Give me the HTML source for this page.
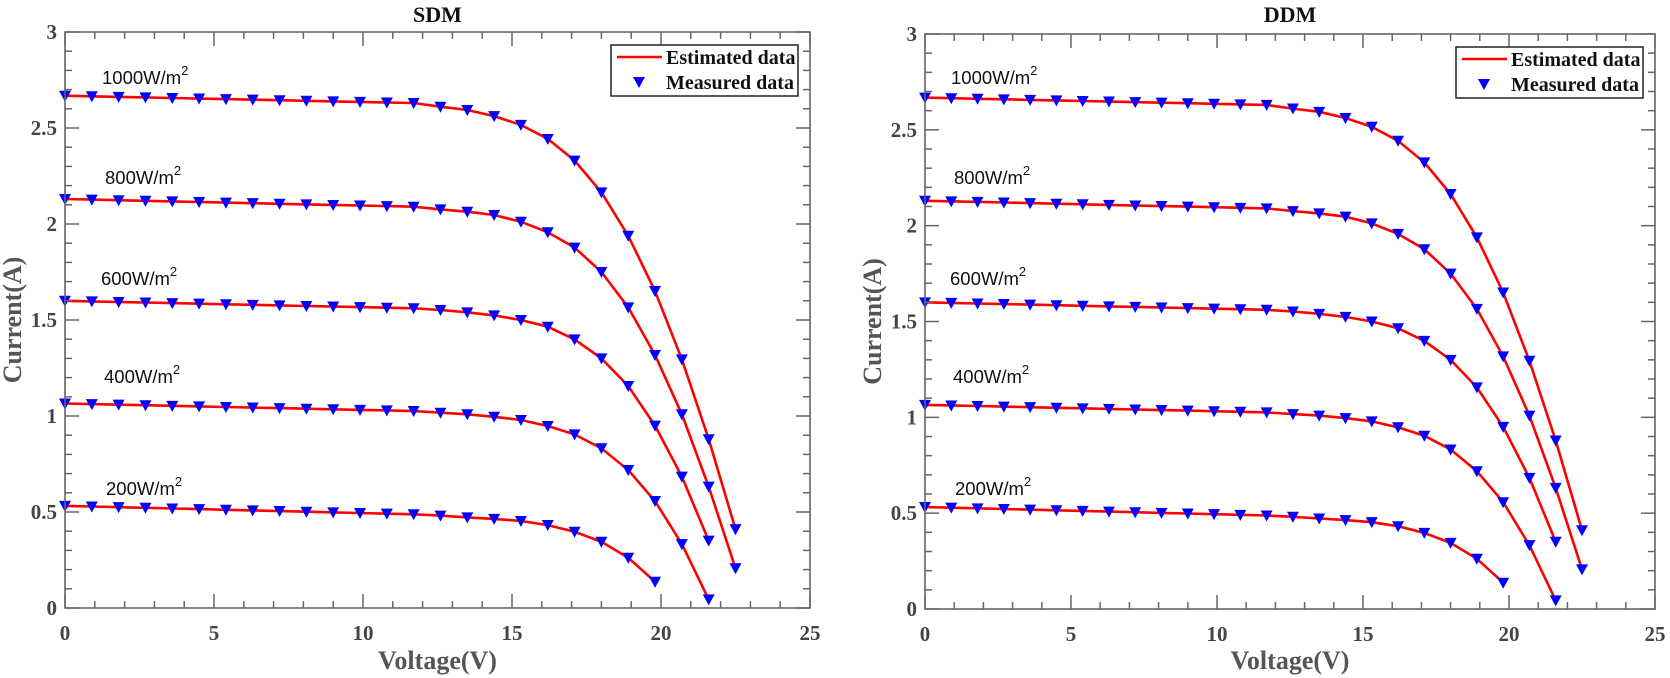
<!DOCTYPE html>
<html><head><meta charset="utf-8"><style>
html,body{margin:0;padding:0;background:#fff;}
svg{display:block;}
.tk{font-family:"Liberation Serif",serif;font-weight:bold;font-size:21px;fill:#444;}
.ax{font-family:"Liberation Serif",serif;font-weight:bold;font-size:26px;fill:#555;}
.tt{font-family:"Liberation Serif",serif;font-weight:bold;font-size:22px;fill:#111;}
.lg{font-family:"Liberation Serif",serif;font-weight:bold;font-size:20px;fill:#111;}
.lb{font-family:"Liberation Sans",sans-serif;font-size:18.5px;fill:#111;}
.lb2{font-family:"Liberation Sans",sans-serif;font-size:13px;fill:#111;}
</style></head><body>
<svg id="s" width="1670" height="678" viewBox="0 0 1670 678" xmlns="http://www.w3.org/2000/svg"></svg>
<script>
var curves=[
 {isc:2.668,pts:[2.630,2.611,2.594,2.562,2.516,2.443,2.330,2.165,1.939,1.651,1.295,0.879,0.411]},
 {isc:2.13,pts:[2.090,2.076,2.064,2.047,2.012,1.957,1.877,1.750,1.566,1.318,1.009,0.632,0.207]},
 {isc:1.60,pts:[1.561,1.552,1.540,1.524,1.500,1.465,1.399,1.300,1.156,0.950,0.684,0.351]},
 {isc:1.065,pts:[1.026,1.017,1.009,0.996,0.979,0.948,0.904,0.832,0.719,0.557,0.333,0.045]},
 {isc:0.532,pts:[0.488,0.481,0.472,0.464,0.453,0.432,0.397,0.345,0.262,0.137]}
];
curves.forEach(function(c){
 var d=[];var i11=c.pts[0];
 for(var k=0;k<13;k++){var v=k*0.9;d.push([v,c.isc+(i11-c.isc)*v/11.7]);}
 c.pts.forEach(function(p,j){d.push([11.7+0.9*j,p]);});
 c.data=d;
});
var labels=[["1000",77,37],["800",177,40],["600",278,36],["400",376,39],["200",488,41]];
var s="";
function plot(x0,x1,y0,y1,title,lx,labOff){
 var sx=(x1-x0)/25, sy=(y0-y1)/3;
 function X(v){return x0+v*sx;} function Y(i){return y0-i*sy;}
 curves.forEach(function(c){
  s+='<polyline fill="none" stroke="#ff0000" stroke-width="2.6" points="'+c.data.map(function(p){return X(p[0]).toFixed(1)+','+Y(p[1]).toFixed(1);}).join(' ')+'"/>';
 });
 curves.forEach(function(c){
  c.data.forEach(function(p){var x=X(p[0]),y=Y(p[1]);
   s+='<polygon fill="#0000ff" points="'+(x-6)+','+(y-5)+' '+(x+6)+','+(y-5)+' '+x+','+(y+6)+'"/>';});
 });
 s+='<rect x="'+x0+'" y="'+y1+'" width="'+(x1-x0)+'" height="'+(y0-y1)+'" fill="none" stroke="#666" stroke-width="1.6"/>';
 for(var v=0;v<=25;v++){var x=X(v),L=(v%5==0)?14:7;
  s+='<line x1="'+x+'" y1="'+y0+'" x2="'+x+'" y2="'+(y0-L)+'" stroke="#666" stroke-width="1.5"/>';
  s+='<line x1="'+x+'" y1="'+y1+'" x2="'+x+'" y2="'+(y1+L)+'" stroke="#666" stroke-width="1.5"/>';
  if(v%5==0) s+='<text class="tk" x="'+x+'" y="'+(y0+32)+'" text-anchor="middle">'+v+'</text>';
 }
 for(var k=0;k<=30;k++){var y=Y(k/10),L=(k%5==0)?14:7;
  s+='<line x1="'+x0+'" y1="'+y+'" x2="'+(x0+L)+'" y2="'+y+'" stroke="#666" stroke-width="1.5"/>';
  s+='<line x1="'+x1+'" y1="'+y+'" x2="'+(x1-L)+'" y2="'+y+'" stroke="#666" stroke-width="1.5"/>';
  if(k%5==0) s+='<text class="tk" x="'+(x0-8)+'" y="'+(y+7)+'" text-anchor="end">'+(k/10)+'</text>';
 }
 var cx=(x0+x1)/2;
 s+='<text class="tt" x="'+cx+'" y="22" text-anchor="middle">'+title+'</text>';
 s+='<text class="ax" x="'+cx+'" y="669" text-anchor="middle">Voltage(V)</text>';
 s+='<text class="ax" transform="translate('+(x0-44)+','+((y0+y1)/2)+') rotate(-90)" text-anchor="middle">Current(A)</text>';
 labels.forEach(function(l){var tx=x0+l[2]+labOff;
  s+='<text class="lb" x="'+tx+'" y="'+(l[1]+7)+'">'+l[0]+'W/m<tspan class="lb2" dy="-9">2</tspan></text>';});
 s+='<rect x="'+lx+'" y="'+(y1+13)+'" width="187" height="51" fill="#fff" stroke="#222" stroke-width="1.5"/>';
 s+='<line x1="'+(lx+6)+'" y1="'+(y1+25)+'" x2="'+(lx+51)+'" y2="'+(y1+25)+'" stroke="#ff0000" stroke-width="2.6"/>';
 s+='<text class="lg" x="'+(lx+55)+'" y="'+(y1+32)+'">Estimated data</text>';
 var tx=lx+28,ty=y1+50;
 s+='<polygon fill="#0000ff" points="'+(tx-6)+','+(ty-5)+' '+(tx+6)+','+(ty-5)+' '+tx+','+(ty+6)+'"/>';
 s+='<text class="lg" x="'+(lx+55)+'" y="'+(y1+57)+'">Measured data</text>';
}
plot(65,810,608,32,"SDM",611,0);
plot(925,1655,609,34,"DDM",1456,-11);
document.getElementById("s").innerHTML=s;
</script>
</body></html>
